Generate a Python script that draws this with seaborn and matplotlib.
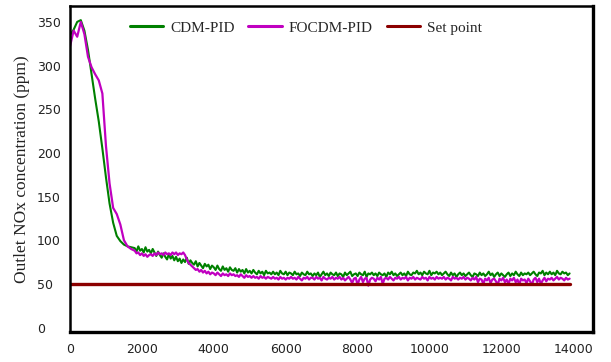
import matplotlib
matplotlib.use("Agg")
import matplotlib.pyplot as plt
import seaborn as sns

# ---- data ----
time = list(range(0, 1800, 100)) + list(range(1800, 13950, 50))

cdm_pid = [
    335, 341, 350, 352, 340, 318, 290, 262, 236, 205,
    172, 142, 120, 105, 99, 95, 93, 92,
    # 1800 - 6700 (step 50)
    91, 87, 93, 88, 90, 86, 92, 87, 89, 85, 90,
    86, 82, 87, 83, 80, 85, 81, 78, 84, 79, 82,
    77, 81, 76, 79, 74, 78, 75, 80, 73, 77, 74,
    72, 76, 70, 74, 71, 68, 73, 70, 72, 67, 71,
    69, 66, 71, 67, 65, 70, 66, 68, 64, 69, 66,
    65, 68, 63, 67, 64, 66, 62, 67, 63, 65, 62,
    66, 63, 61, 65, 62, 64, 60, 65, 62, 63, 61,
    64, 61, 63, 60, 65, 62, 61, 64, 60, 63, 62,
    60, 64, 61, 62, 59, 63, 61, 60, 64, 61, 62,
    # 6750 - 13900
    59, 62, 60, 63, 58, 61, 64, 60, 62, 59, 63, 61,
    60, 63, 59, 62, 61, 58, 63, 60, 62, 64, 59, 61,
    62, 59, 63, 61, 60, 64, 58, 62, 61, 63, 60, 62,
    59, 63, 61, 60, 62, 58, 63, 61, 64, 60, 62, 59,
    61, 63, 60, 62, 59, 64, 61, 60, 63, 62, 65, 61,
    63, 60, 64, 62, 61, 65, 60, 63, 62, 64, 61, 63,
    60, 62, 64, 61, 59, 63, 60, 62, 58, 61, 63, 60,
    62, 59, 61, 63, 60, 58, 62, 61, 59, 63, 60, 62,
    59, 61, 64, 60, 62, 58, 61, 63, 59, 62, 60, 58,
    61, 63, 59, 62, 60, 64, 61, 59, 63, 60, 62, 61,
    63, 60, 62, 64, 61, 59, 63, 62, 65, 60, 63, 61,
    64, 61, 63, 60, 65, 62, 61, 64, 62, 63, 60, 62,
]

focdm_pid = [
    322, 340, 333, 350, 336, 310, 298, 290, 283, 268,
    208, 165, 137, 130, 118, 100, 93, 90,
    # 1800 - 6700 (step 50)
    88, 85, 86, 83, 85, 82, 84, 81, 83, 84, 82,
    85, 83, 86, 84, 85, 83, 86, 84, 85, 83, 86,
    84, 86, 83, 85, 84, 86, 83, 78, 74, 72, 70,
    68, 66, 67, 64, 66, 63, 65, 62, 64, 61, 63,
    62, 60, 63, 61, 59, 62, 60, 61, 59, 62, 60,
    61, 59, 60, 58, 61, 59, 57, 60, 58, 59, 57,
    59, 57, 58, 56, 59, 57, 58, 56, 58, 57, 56,
    58, 56, 57, 55, 58, 56, 57, 55, 57, 56, 58,
    56, 57, 55, 58, 56, 54, 57, 56, 58, 55, 57,
    # 6750 - 13900
    57, 55, 58, 56, 57, 54, 58, 56, 55, 57, 56, 58,
    55, 57, 56, 58, 55, 57, 54, 56, 58, 55, 51, 56,
    57, 49, 55, 58, 52, 56, 57, 48, 55, 57, 56, 53,
    57, 55, 58, 50, 56, 57, 55, 58, 56, 54, 57, 56,
    58, 55, 57, 56, 58, 54, 57, 56, 58, 55, 57, 56,
    55, 58, 56, 57, 54, 58, 56, 57, 55, 58, 56, 57,
    56, 58, 55, 57, 56, 54, 58, 56, 57, 55, 57, 56,
    58, 55, 57, 56, 54, 57, 55, 58, 52, 56, 55, 50,
    56, 54, 57, 51, 55, 56, 53, 49, 56, 54, 57, 52,
    55, 50, 56, 54, 57, 52, 55, 49, 56, 54, 55, 51,
    56, 53, 49, 55, 57, 52, 56, 50, 54, 57, 53, 56,
    55, 57, 54, 56, 58, 55, 57, 56, 54, 57, 55, 56,
]

setpoint_time = [0, 13900]
setpoint_value = [50, 50]

x_ticks = [0, 2000, 4000, 6000, 8000, 10000, 12000, 14000]
y_ticks = [0, 50, 100, 150, 200, 250, 300, 350]

# ---- plot ----
sns.set_style("white")
plt.rcParams['font.family'] = ['DejaVu Sans']

fig = plt.figure(figsize=(6.11, 3.62), dpi=100)
ax = fig.add_axes([0.1146, 0.083, 0.8559, 0.9])

sns.lineplot(x=time, y=cdm_pid, color="#008000", lw=1.5, label="CDM-PID", ax=ax)
sns.lineplot(x=time, y=focdm_pid, color="#C000C0", lw=1.6, label="FOCDM-PID", ax=ax)
sns.lineplot(x=setpoint_time, y=setpoint_value, color="#8B0000", lw=2.4, label="Set point", ax=ax)

ax.set_xlim(0, 14550)
ax.set_ylim(-5, 368)
ax.set_xticks(x_ticks)
ax.set_yticks(y_ticks)
ax.set_xticklabels([str(v) for v in x_ticks], fontsize=9, color="#222222")
ax.set_yticklabels([str(v) for v in y_ticks], fontsize=9, color="#222222")
ax.tick_params(axis='both', length=0)
ax.tick_params(axis='x', pad=8)
ax.tick_params(axis='y', pad=24)
for lab in ax.get_yticklabels():
    lab.set_horizontalalignment('left')

ax.set_ylabel("Outlet NOx concentration (ppm)", family="Liberation Serif", fontsize=12.5,
              color="#222222", labelpad=5)
ax.set_xlabel("")

for s in ax.spines.values():
    s.set_color("black")
    s.set_linewidth(1.8)
    s.set_visible(True)
ax.spines['right'].set_linewidth(2.4)
ax.spines['bottom'].set_linewidth(2.4)

leg = ax.legend(loc='center', bbox_to_anchor=(0.451, 0.933), ncol=3, frameon=False,
                prop={'family': 'Liberation Serif', 'size': 11},
                handlelength=2.2, handletextpad=0.45, columnspacing=0.9)
for ln in leg.get_lines():
    ln.set_linewidth(2.2)

fig.savefig("out.png", dpi=100)
